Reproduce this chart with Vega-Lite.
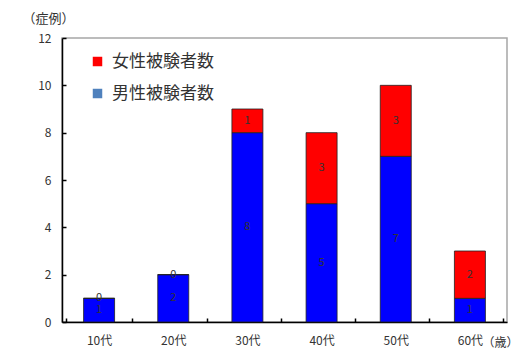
{
  "$schema": "https://vega.github.io/schema/vega-lite/v6.json",
  "autosize": "none",
  "padding": {"left": 62, "top": 38, "right": 14, "bottom": 28},
  "width": 445,
  "height": 284,
  "background": "white",
  "config": {
    "font": "Noto Sans CJK JP",
    "view": {"stroke": "#a6a6a6", "strokeWidth": 1.5}
  },
  "data": {
    "values": [
      {"age": "10代", "sex": "男性被験者数", "count": 1},
      {"age": "10代", "sex": "女性被験者数", "count": 0},
      {"age": "20代", "sex": "男性被験者数", "count": 2},
      {"age": "20代", "sex": "女性被験者数", "count": 0},
      {"age": "30代", "sex": "男性被験者数", "count": 8},
      {"age": "30代", "sex": "女性被験者数", "count": 1},
      {"age": "40代", "sex": "男性被験者数", "count": 5},
      {"age": "40代", "sex": "女性被験者数", "count": 3},
      {"age": "50代", "sex": "男性被験者数", "count": 7},
      {"age": "50代", "sex": "女性被験者数", "count": 3},
      {"age": "60代", "sex": "男性被験者数", "count": 1},
      {"age": "60代", "sex": "女性被験者数", "count": 2}
    ]
  },
  "transform": [
    {"stack": "count", "groupby": ["age"], "sort": [{"field": "sex", "order": "descending"}], "as": ["y0", "y1"]},
    {"calculate": "(datum.y0 + datum.y1) / 2", "as": "ymid"}
  ],
  "encoding": {
    "x": {
      "field": "age", "type": "nominal", "sort": null,
      "axis": {
        "title": "（歳）", "titleAngle": 0, "titleX": 420, "titleY": 20, "titleAlign": "left",
        "titleBaseline": "middle", "titleFontSize": 12, "titleFontWeight": "normal", "titleColor": "#333",
        "labelAngle": 0, "labelFontSize": 12, "labelColor": "#333", "labelPadding": 17,
        "tickBand": "extent", "tickSize": -4, "tickColor": "#000", "tickWidth": 1.5,
        "domainColor": "#000", "domainWidth": 1.5
      }
    }
  },
  "resolve": {"scale": {"color": "independent"}, "legend": {"color": "independent"}},
  "layer": [
    {
      "mark": {"type": "bar", "size": 31, "stroke": "#222", "strokeWidth": 0.8},
      "encoding": {
        "y": {
          "field": "y0", "type": "quantitative", "scale": {"domain": [0, 12]},
          "axis": {
            "title": "（症例）", "titleAngle": 0, "titleX": -40, "titleY": -20, "titleAlign": "left",
            "titleBaseline": "middle", "titleFontSize": 13, "titleFontWeight": "normal", "titleColor": "#333",
            "values": [0, 2, 4, 6, 8, 10, 12], "grid": false,
            "labelFontSize": 12, "labelColor": "#333", "labelPadding": 15,
            "tickSize": -4, "tickColor": "#000", "tickWidth": 1.5,
            "domainColor": "#000", "domainWidth": 1.5
          }
        },
        "y2": {"field": "y1"},
        "color": {
          "field": "sex", "type": "nominal",
          "scale": {"domain": ["女性被験者数", "男性被験者数"], "range": ["#ff0000", "#0000ff"]},
          "legend": null
        }
      }
    },
    {
      "mark": {"type": "square", "opacity": 0},
      "encoding": {
        "y": {"field": "ymid", "type": "quantitative"},
        "color": {
          "field": "sex", "type": "nominal",
          "scale": {"domain": ["女性被験者数", "男性被験者数"], "range": ["#ff0000", "#4f81bd"]},
          "legend": {
            "title": null, "orient": "none", "legendX": 27, "legendY": 15,
            "symbolType": "square", "symbolSize": 90, "symbolStrokeWidth": 0, "symbolOpacity": 1,
            "labelFontSize": 17, "labelColor": "#333", "labelOffset": 6, "rowPadding": 14, "labelLimit": 300
          }
        }
      }
    },
    {
      "mark": {"type": "text", "fontSize": 11, "color": "#333", "baseline": "middle"},
      "encoding": {
        "y": {"field": "ymid", "type": "quantitative"},
        "text": {"field": "count", "type": "quantitative"}
      }
    }
  ]
}
